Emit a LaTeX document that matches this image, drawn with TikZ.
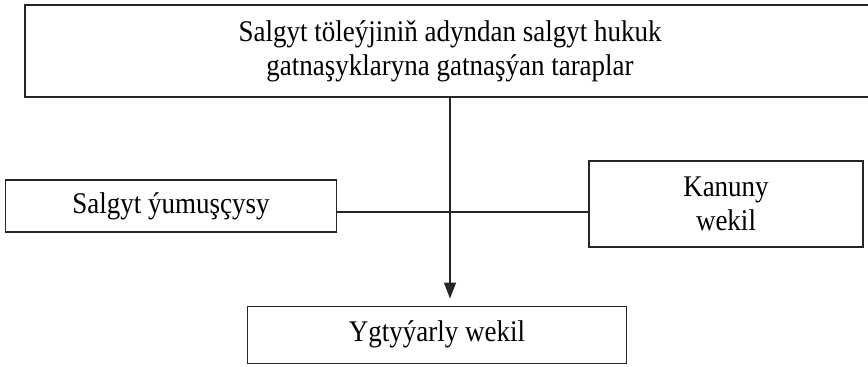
\documentclass[tikz,border=0pt]{standalone}
\usepackage{fontspec}
\setmainfont{Liberation Serif}[FakeStretch=0.9]
\usetikzlibrary{arrows.meta}
\begin{document}
\begin{tikzpicture}[x=0.5pt,y=-0.5pt,
  box/.style={draw=black!85, line width=0.65pt, rectangle, inner sep=0pt, align=center,
    font=\fontsize{15pt}{17pt}\selectfont},
  conn/.style={draw=black!85, line width=0.65pt}]
\useasboundingbox (0,0) rectangle (868,366);
\clip (0,0) rectangle (868,366);
\node[box, minimum width=425pt, minimum height=46pt] (top) at (450,51)
  {Salgyt töleýjiniň adyndan salgyt hukuk\\gatnaşyklaryna gatnaşýan taraplar};
\node[box, minimum width=165.5pt, minimum height=26pt] (left) at (171,206) {Salgyt ýumuşçysy};
\node[box, minimum width=137pt, minimum height=43pt] (right) at (726,204) {Kanuny\\wekil};
\node[box, minimum width=189.5pt, minimum height=28.5pt] (bottom) at (437,334.7) {Ygtyýarly wekil};
\coordinate (hy) at (0,212);
\draw[conn] (left.east |- hy) -- (right.west |- hy);
\draw[conn, -{Triangle[width=6pt,length=8pt]}, shorten >=3.5pt] (top.south) -- (top.south |- bottom.north);
\end{tikzpicture}
\end{document}
